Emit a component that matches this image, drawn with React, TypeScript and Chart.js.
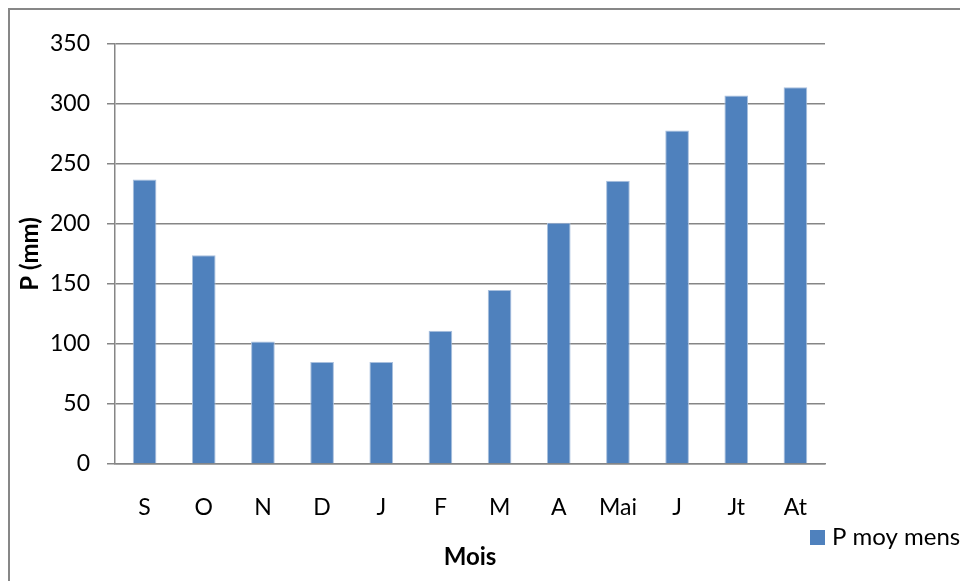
import React, { useEffect, useRef } from "react";
import { Chart, registerables } from "chart.js";

Chart.register(...registerables);

// Monthly mean precipitation (mm), hydrological year September → August
const months: string[] = ["S", "O", "N", "D", "J", "F", "M", "A", "Mai", "J", "Jt", "At"];
const precipitation: number[] = [237, 174, 102, 85, 85, 111, 145, 201, 236, 278, 307, 314];
const seriesLabel = "P moy mens";
const yTitle = "P (mm)";
const xTitle = "Mois";

const W = 960;
const H = 581;
const FONT = "Lato, 'DejaVu Sans', sans-serif";
const BAR = "#4F81BD";
const GRID = "#868686";

const framePlugin = {
  id: "frame",
  beforeDraw(chart: Chart) {
    const ctx = chart.ctx;
    ctx.save();
    ctx.fillStyle = "#ffffff";
    ctx.fillRect(0, 0, chart.width, chart.height);
    ctx.strokeStyle = "#878787";
    ctx.lineWidth = 2;
    ctx.beginPath();
    ctx.moveTo(9, chart.height);
    ctx.lineTo(9, 9);
    ctx.lineTo(chart.width, 9);
    ctx.stroke();
    ctx.restore();
  },
};

const legendPlugin = {
  id: "sideLegend",
  afterDraw(chart: Chart) {
    const ctx = chart.ctx;
    const ds = chart.data.datasets[0];
    ctx.save();
    ctx.fillStyle = BAR;
    ctx.fillRect(810, 530, 15, 15);
    ctx.fillStyle = "#000000";
    ctx.font = `24px ${FONT}`;
    ctx.textBaseline = "middle";
    ctx.textAlign = "left";
    ctx.fillText(String(ds.label), 832, 537);
    ctx.restore();
  },
};

export default function App() {
  const ref = useRef<HTMLCanvasElement | null>(null);

  useEffect(() => {
    if (!ref.current) return;
    const chart = new Chart(ref.current, {
      type: "bar",
      data: {
        labels: months,
        datasets: [
          {
            label: seriesLabel,
            data: precipitation,
            backgroundColor: BAR,
            borderColor: "#A9C0DE",
            borderWidth: 1,
            barPercentage: 0.4,
            categoryPercentage: 1,
          },
        ],
      },
      options: {
        responsive: false,
        animation: false,
        layout: { padding: { left: 10, top: 44, right: 135, bottom: 4 } },
        plugins: {
          legend: { display: false },
          tooltip: { enabled: false },
        },
        scales: {
          x: {
            afterFit(scale: any) {
              scale.height = 113;
            },
            grid: { display: false, drawTicks: false },
            border: { display: true, color: GRID, width: 1.5 },
            ticks: {
              color: "#000",
              padding: 30,
              font: { family: FONT, size: 23 },
              maxRotation: 0,
            },
            title: {
              display: true,
              text: xTitle,
              color: "#000",
              font: { family: FONT, size: 24, weight: "bold" },
              padding: { top: 0, bottom: 5 },
            },
          },
          y: {
            min: 0,
            max: 350,
            afterFit(scale: any) {
              scale.width = 105;
            },
            grid: { color: GRID, lineWidth: 1.5, tickLength: 8, drawTicks: true },
            border: { display: true, color: GRID, width: 1.5 },
            ticks: {
              stepSize: 50,
              color: "#000",
              padding: 17,
              font: { family: FONT, size: 23 },
            },
            title: {
              display: true,
              text: yTitle,
              color: "#000",
              font: { family: FONT, size: 24, weight: "bold" },
              padding: { top: 6, bottom: 0 },
            },
          },
        },
      },
      plugins: [framePlugin, legendPlugin],
    });
    return () => chart.destroy();
  }, []);

  return (
    <canvas
      ref={ref}
      width={W}
      height={H}
      style={{ position: "fixed", left: 0, top: 0, display: "block" }}
    />
  );
}
